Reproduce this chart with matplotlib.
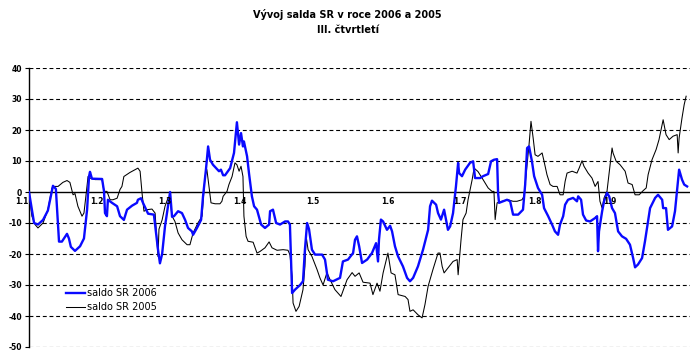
import numpy as np
import matplotlib
matplotlib.use('Agg')
import matplotlib.pyplot as plt

# days since 1 January, value of the balance
days_2006 = [2.9, 5.0, 6.6, 8.7, 10.7, 12.8, 14.0, 15.3, 16.5, 18.6, 19.4, 20.2, 21.9, 24.0, 25.6,
             26.9, 27.7, 28.1, 28.9, 33.1, 33.9, 34.3, 35.1, 35.5, 37.2, 39.3, 40.5, 42.1, 43.4,
             45.5, 47.5, 47.9, 49.2, 50.0, 52.1, 54.5, 56.2, 57.0, 57.9, 59.1, 60.3, 61.2, 62.0,
             62.8, 64.5, 66.1, 67.4, 68.6, 70.2, 70.7, 72.3, 74.0, 74.8, 76.0, 76.9, 77.7, 78.9,
             81.4, 82.2, 83.1, 83.9, 86.0, 87.6, 88.8, 89.7, 90.5, 91.3, 91.7, 93.0, 93.8, 95.0,
             95.9, 97.1, 97.5, 98.8, 100.4, 102.1, 102.5, 103.7, 105.0, 106.6, 108.7, 109.9,
             110.7, 111.6, 112.8, 114.9, 116.1, 116.9, 117.8, 118.6, 119.8, 121.1, 124.0, 125.2,
             126.4, 128.5, 131.4, 132.6, 134.7, 136.8, 137.6, 138.4, 139.3, 140.5, 142.6, 144.6,
             146.3, 147.1, 147.5, 148.3, 149.2, 150.8, 152.1, 152.9, 154.1, 155.4, 157.4, 159.1,
             160.3, 161.6, 163.6, 165.7, 167.8, 168.6, 169.4, 171.1, 171.9, 173.1, 174.4, 176.0,
             176.9, 178.1, 179.3, 180.2, 180.6, 181.8, 183.1, 185.1, 186.4, 187.2, 189.3, 190.5,
             192.6, 193.8, 195.0, 196.3, 196.7, 197.1, 198.8, 200.4, 201.7, 202.9, 205.0, 207.0,
             207.9, 208.7, 209.5, 210.7, 211.6, 213.2, 214.9, 215.7, 217.4, 219.0, 220.2, 221.5,
             222.3, 223.6, 224.4, 225.6, 227.7, 229.3, 229.8, 231.0, 231.8, 233.1, 234.7, 236.8,
             237.6, 238.0, 238.4, 239.7, 240.5, 241.7, 242.6, 243.8, 245.0, 246.3, 247.9, 249.6,
             251.2, 252.5, 253.3, 254.5, 256.2, 257.4, 259.5, 261.6, 262.8, 264.5, 264.9, 266.1,
             266.9, 268.6, 269.8, 270.7, 271.5, 272.7, 273.6, 274.8]
saldo_2006 = [0, -10, -10.5, -9, -6, 2, 1, -16, -16, -13.5, -15, -17.7, -19, -17.5, -15,
              -5.7, 5, 6.5, 4.3, 4.2, 0.2, -6.8, -7.8, -2.5, -3.5, -4.6, -7.8, -9, -5.7,
              -4.4, -3.5, -2.5, -2, -3.5, -7, -7.3, -18.6, -23, -20, -11, -4.6, 0, -8,
              -7.8, -6.2, -6.8, -9, -11.6, -12.7, -13.8, -11.6, -9, -1.4, 7.2, 14.7, 10.4, 8.8,
              6.7, 7.2, 5.4, 5.4, 7.7, 12.6, 22.5, 15.3, 19, 14.7, 16.3, 11.5, 6, -1.4,
              -4.6, -5.7, -6.8, -10.5, -11.6, -10.5, -6.2, -5.7, -10, -10.5, -9.5, -9.5,
              -10.5, -32.6, -31.5, -30, -28.8, -18.6, -10, -12, -18.6, -20.2, -20.2, -21.8,
              -28.3, -28.8, -27.7, -22.4, -21.8, -19.7, -15.4, -14.3, -17.5, -22.9, -21.8, -19.7,
              -16.5, -22.4, -15.4, -8.9, -9.5, -12.2, -10.9, -12.7, -17.5, -20.8, -24, -27.7,
              -28.8, -27.7, -24, -18.6, -12.2, -4.6, -2.8, -4.1, -6.8, -8.9, -5.7, -12.2,
              -11.1, -6.8, 1.8, 9.4, 6.1, 5.1, 7.2, 9.4, 9.9, 4.5, 4.5, 5.1,
              5.8, 9.9, 10.4, 10.6, -0.3, -3.5, -3, -2.5, -3, -7.3, -7.3, -5.7,
              2.4, 14.2, 14.7, 9.9, 5.1, 1.3, -0.9, -5.2, -7.8, -10.5, -12.7, -13.8,
              -10.5, -7.8, -4.1, -2.5, -1.9, -3, -1.4, -2.5, -7.3, -9.2, -9.5, -8.4,
              -7.8, -19.1, -12.7, -6.2, -3, -0.3, -1.4, -5.2, -6.8, -12.7, -14.3, -15.1,
              -17, -21.3, -24.3, -23.4, -21.3, -15.9, -5.2, -1.9, -0.9, -2.5, -5.2, -5.2,
              -12.2, -11.1, -6.2, 0.8, 7.2, 4, 2.4, 1.8]

days_2005 = [2.9, 4.1, 5.4, 6.6, 8.7, 10.7, 12.4, 13.6, 14.9, 16.9, 18.6, 19.8, 21.1, 21.9, 23.1,
             24.8, 25.6, 26.4, 27.3, 28.1, 30.2, 33.1, 33.9, 35.1, 36.4, 37.6, 39.3, 40.5, 41.3,
             42.1, 44.6, 46.7, 47.9, 48.8, 49.6, 50.4, 51.7, 53.7, 55.0, 56.2, 56.6, 57.9, 59.1,
             60.3, 61.2, 62.0, 63.2, 64.5, 66.1, 68.2, 69.4, 70.7, 72.7, 74.4, 75.6, 76.4, 76.9,
             78.1, 79.8, 81.8, 82.6, 83.1, 84.7, 85.5, 86.8, 88.0, 88.8, 89.7, 90.5, 91.3, 91.7,
             92.6, 93.4, 95.5, 97.1, 98.3, 100.4, 102.1, 103.3, 105.4, 107.9, 109.9, 110.7, 111.6,
             112.0, 113.2, 114.5, 116.1, 116.9, 117.4, 118.2, 119.8, 121.9, 123.1, 124.4, 126.0,
             127.3, 129.3, 131.8, 133.1, 134.3, 136.4, 137.6, 139.3, 140.9, 143.8, 145.0, 146.7,
             147.9, 149.2, 151.2, 152.5, 154.1, 155.4, 158.3, 159.5, 160.3, 161.6, 163.6, 165.3,
             166.5, 167.8, 169.8, 171.9, 172.7, 173.6, 174.4, 176.0, 178.1, 179.8, 180.2, 181.4,
             182.2, 183.5, 184.3, 186.0, 186.8, 188.4, 190.5, 192.6, 194.2, 195.0, 195.5, 196.3,
             198.3, 200.8, 202.9, 204.5, 206.6, 207.4, 208.7, 209.5, 210.3, 211.2, 212.0, 213.2,
             214.9, 215.7, 216.9, 218.2, 219.4, 221.1, 222.3, 223.6, 224.4, 225.2, 227.3, 229.3,
             230.2, 231.4, 232.2, 233.9, 235.5, 236.8, 238.0, 238.8, 239.7, 240.5, 241.7, 243.0,
             243.8, 244.2, 245.5, 247.1, 249.2, 250.4, 252.1, 253.3, 255.0, 256.6, 257.9, 258.7,
             260.3, 262.0, 263.2, 264.9, 266.1, 267.4, 269.0, 270.7, 271.1, 271.5, 272.7, 273.6,
             274.4]
saldo_2005 = [0, -7.8, -10.5, -11.6, -10, -5.7, 1.3, 1.8, 1.8, 3.1, 3.7, 3.1, -0.9, -0.5, -4.6,
              -7.8, -6.8, -1.4, 5, 4.5, 4, 4, 0.2, 0.2, -2.5, -2.5, -2, 0.8, 1.8,
              5, 6.3, 7.2, 7.7, 6.7, -0.3, -6.2, -5.7, -5.5, -6.8, -20.8, -12, -9, -4.6,
              -2, -2.5, -7.8, -9.5, -13.2, -15.4, -17, -17, -13.2, -10, -7.8, 5, 7.2, 4,
              -3.5, -3.8, -3.8, -3, -1.4, 0.2, 2.4, 5, 9.4, 8.8, 6.7, 8.3, 5, -7.8,
              -14.3, -15.9, -16.2, -19.7, -19.2, -18, -16.1, -18, -18.8, -18.6, -18.8, -20.2, -27.2,
              -35.8, -38.5, -36.9, -31.5, -24, -14.3, -18.6, -20.8, -25, -27.7, -30, -26,
              -28.3, -31.5, -33.7, -30.9, -28.3, -26, -27.2, -26.1, -29.1, -29.4, -33.1, -29.4,
              -32, -26.1, -19.7, -26.1, -26.7, -33.1, -33.7, -34.7, -38.5, -38, -39.6, -40.6,
              -36.3, -30.4, -25, -19.7, -19.7, -24, -26.1, -24.5, -22.4, -21.8, -26.7, -15.4,
              -8.9, -6.8, -2.5, 4, 7.7, 6.6, 4, 1.3, 0.2, 0.2, -8.9, -3.5,
              -3, -2.5, -3, -3, -2.5, -1.4, 8.8, 15.3, 22.8, 17.4, 12, 11.5,
              12.6, 9.9, 5.6, 2.4, 1.8, 1.8, -0.9, -0.9, 3.4, 6.1, 6.7, 6.1,
              7.7, 10.1, 8.3, 6.1, 4.5, 1.8, 3.4, -3, -5.2, -1.9, 0.2, 8.8,
              14.2, 12.6, 9.9, 8.8, 6.7, 2.9, 2.4, -0.9, -0.9, 0.4, 1.3, 5.6,
              10.4, 13.7, 16.9, 23.3, 18.5, 16.9, 18, 18.5, 12.6, 17.4, 23.9, 28.2,
              30.9]

month_starts = [0, 31, 59, 90, 120, 151, 181, 212, 243]
month_labels = ['1.1', '1.2', '1.3', '1.4', '1.5', '1.6', '1.7', '1.8', '1.9']
y_ticks = [40, 30, 20, 10, 0, -10, -20, -30, -40, -50]

fig = plt.figure(figsize=(6.94, 3.56), dpi=100)
ax = fig.add_axes([29 / 694, 1 - 347 / 356, 661 / 694, 279 / 356])

# gridlines
for v in y_ticks:
    if v == 0:
        ax.axhline(v, color='black', lw=1.0, zorder=1)
    else:
        ax.axhline(v, color='black', lw=0.8, ls=(0, (3.5, 2.5)), zorder=1)

ax.plot(days_2005, saldo_2005, color='black', lw=0.75, label='saldo SR 2005', zorder=2)
ax.plot(days_2006, saldo_2006, color='#0a0aff', lw=1.7, label='saldo SR 2006', zorder=3)

ax.set_xlim(2.9, 276)
ax.set_ylim(-50, 40)
ax.set_xticks([])
ax.set_yticks(y_ticks)
ax.set_yticklabels([str(v) for v in y_ticks], fontsize=5.5, fontweight='bold')
ax.tick_params(axis='y', length=3, width=0.8, pad=2)
for s in ['top', 'right', 'bottom']:
    ax.spines[s].set_visible(False)
ax.spines['left'].set_linewidth(1.0)

for d, lab in zip(month_starts, month_labels):
    ax.text(d, -1.6, lab, ha='center', va='top', fontsize=5.5, fontweight='bold', clip_on=False)

h, l = ax.get_legend_handles_labels()
ax.legend(h[::-1], l[::-1], loc='upper left', bbox_to_anchor=(66 / 694, 1 - 288 / 356),
          bbox_transform=fig.transFigure, frameon=False, fontsize=7, borderpad=0,
          borderaxespad=0, handlelength=2.0, handletextpad=0.15, labelspacing=0.45)

fig.text(347 / 694, 1 - 14 / 356, 'Vývoj salda SR v roce 2006 a 2005', ha='center', va='center',
         fontsize=7, fontweight='bold')
fig.text(348 / 694, 1 - 30 / 356, 'III. čtvrtletí', ha='center', va='center',
         fontsize=7, fontweight='bold')

plt.savefig('out.png', dpi=100)
